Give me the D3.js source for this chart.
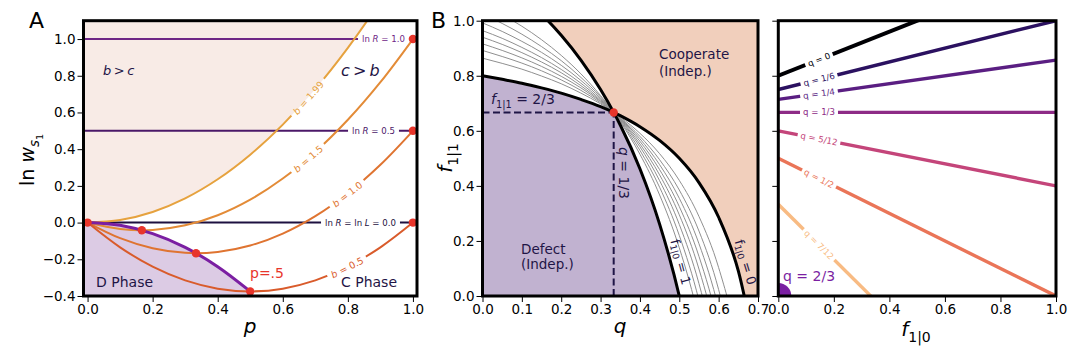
<!DOCTYPE html>
<html>
<head>
<meta charset="utf-8">
<script src="https://cdn.jsdelivr.net/npm/d3@7"></script>
<style>
  body { margin: 0; background: #fff; }
  svg text { font-family: "DejaVu Sans", sans-serif; }
</style>
</head>
<body>
<svg id="fig" width="1080" height="352"></svg>
<script>
/* global d3 */

// ---------- panel A : ln w vs p ----------
var pGrid     = [0, 0.1, 0.2, 0.3, 0.4, 0.5, 0.6, 0.7, 0.8, 0.9, 1.0];
var bNames    = ['1.99', '1.5', '1.0', '0.5'];
var lnW_b199  = [0, 0.014, 0.058, 0.132, 0.236, 0.370, 0.534, 0.728, 0.952, 1.206, 1.490];
var lnW_b150  = [0, -0.035, -0.040, -0.015, 0.040, 0.125, 0.240, 0.385, 0.560, 0.765, 1.000];
var lnW_b100  = [0, -0.085, -0.140, -0.165, -0.160, -0.125, -0.060, 0.035, 0.160, 0.315, 0.500];
var lnW_b050  = [0, -0.135, -0.240, -0.315, -0.360, -0.375, -0.360, -0.315, -0.240, -0.135, 0.000];
var phaseP    = [0, 0.1, 0.2, 0.3, 0.4, 0.5];
var phaseLnW  = [0, -0.015, -0.060, -0.135, -0.240, -0.375];
var minP      = [0, 1 / 6, 1 / 3, 0.5];
var minLnW    = [0, -0.042, -0.167, -0.375];
var lnRValues = [1.0, 0.5, 0.0];
var lnRNames  = ['1.0', '0.5', '0.0'];
var endP      = [1, 1, 1];
var endLnW    = [1.0, 0.5, 0.0];
var aTicksX   = [0, 0.2, 0.4, 0.6, 0.8, 1.0];
var aTicksY   = [-0.4, -0.2, 0, 0.2, 0.4, 0.6, 0.8, 1.0];

// ---------- panel B : f11 vs q ----------
var qGrid      = [0, 0.05, 0.1, 0.15, 0.2, 0.25, 0.3, 1 / 3, 0.35, 0.4, 0.45, 0.5, 0.55, 0.6, 0.65, 0.7];
var f11_f10is0 = [0.800, 0.787, 0.773, 0.756, 0.737, 0.714, 0.688, 0.667, 0.655, 0.615, 0.565, 0.500, 0.412, 0.286, 0.091, -0.250];
var f11_f10is1 = [1.200, 1.149, 1.091, 1.024, 0.947, 0.857, 0.750, 0.667, 0.621, 0.462, 0.261, 0.000, -0.353, -0.857, -1.636, -3.000];
var f11_gray = [
  [0.864, 0.845, 0.824, 0.799, 0.771, 0.737, 0.698, 0.667, 0.650, 0.591, 0.517, 0.420, 0.289, 0.103, -0.186, -0.690],
  [0.892, 0.870, 0.846, 0.818, 0.785, 0.747, 0.702, 0.667, 0.647, 0.580, 0.495, 0.385, 0.236, 0.023, -0.306, -0.883],
  [0.916, 0.892, 0.865, 0.834, 0.798, 0.756, 0.706, 0.667, 0.645, 0.571, 0.477, 0.355, 0.190, -0.046, -0.410, -1.048],
  [0.940, 0.914, 0.884, 0.850, 0.811, 0.764, 0.709, 0.667, 0.643, 0.562, 0.459, 0.325, 0.144, -0.114, -0.514, -1.213],
  [0.964, 0.936, 0.903, 0.866, 0.823, 0.773, 0.713, 0.667, 0.641, 0.552, 0.440, 0.295, 0.098, -0.183, -0.617, -1.378],
  [0.992, 0.961, 0.925, 0.885, 0.838, 0.783, 0.718, 0.667, 0.639, 0.542, 0.419, 0.260, 0.045, -0.263, -0.738, -1.570],
  [1.024, 0.990, 0.951, 0.906, 0.855, 0.794, 0.723, 0.667, 0.636, 0.529, 0.395, 0.220, -0.016, -0.354, -0.876, -1.790],
  [1.060, 1.022, 0.980, 0.931, 0.874, 0.807, 0.728, 0.667, 0.633, 0.515, 0.367, 0.175, -0.085, -0.457, -1.032, -2.038]
];
var critQ   = 1 / 3;
var critF11 = 2 / 3;
var bTicksX = [0, 0.1, 0.2, 0.3, 0.4, 0.5, 0.6, 0.7];
var bTicksY = [0, 0.2, 0.4, 0.6, 0.8, 1.0];

// ---------- panel C : f11 vs f10 for fixed q ----------
var qNames    = ['0', '1/6', '1/4', '1/3', '5/12', '1/2', '7/12'];
var f11AtZero = [0.800, 0.750, 0.714, 0.667, 0.600, 0.500, 0.333];
var f11AtOne  = [1.200, 1.000, 0.857, 0.667, 0.400, 0.000, -0.667];
var cTicksX   = [0, 0.2, 0.4, 0.6, 0.8, 1.0];

// ---------- styles ----------
var W = 1080, H = 352;
var ink = '#1f1546';
var red = '#e8352b';
var bColors   = ['#e6a23e', '#e38b37', '#df7431', '#d95b2b'];
var lnRColors = ['#6e2585', '#4b1868', '#1d1040'];
var qColors   = ['#000004', '#2b1160', '#5a1e82', '#8d2b86', '#c4457a', '#ea7558', '#f8bb83'];

var svg = d3.select('#fig');
var defs = svg.append('defs');
var fmt1 = d3.format('.1f');

function zip(xs, ys) { return xs.map(function (x, i) { return [x, ys[i]]; }); }

function richText(sel, parts, size) {
  var shift = 0;
  parts.forEach(function (pt) {
    var kind = pt[1] || '';
    var want = 0, fs = size;
    if (kind.indexOf('sub') >= 0) { want = size * 0.28; fs = size * 0.7; }
    if (kind.indexOf('subsub') >= 0) { want = size * 0.45; fs = size * 0.5; }
    var t = sel.append('tspan').text(pt[0]).attr('font-size', fs);
    if (kind.charAt(0) === 'i') t.attr('font-style', 'italic');
    if (want - shift !== 0) t.attr('dy', want - shift);
    shift = want;
  });
  return sel;
}

function cleanAxis(a) {
  a.select('.domain').remove();
  a.selectAll('line').attr('stroke', '#000').attr('stroke-width', 1);
  a.selectAll('text').attr('font-size', 13.5).attr('font-family', 'DejaVu Sans').attr('fill', '#000');
}

function axes(g, x, y, xt, yt, showY) {
  g.append('g').attr('transform', 'translate(0,' + y.range()[0] + ')')
    .call(d3.axisBottom(x).tickValues(xt).tickFormat(fmt1).tickSize(6).tickPadding(2))
    .call(cleanAxis);
  g.append('g').attr('transform', 'translate(' + x.range()[0] + ',0)')
    .call(d3.axisLeft(y).tickValues(yt).tickFormat(showY ? fmt1 : '').tickSize(6).tickPadding(2))
    .call(cleanAxis);
}

function frame(g, x, y) {
  g.append('rect')
    .attr('x', x.range()[0]).attr('y', y.range()[1])
    .attr('width', x.range()[1] - x.range()[0]).attr('height', y.range()[0] - y.range()[1])
    .attr('fill', 'none').attr('stroke', '#000').attr('stroke-width', 3);
}

function clipFor(id, x, y) {
  defs.append('clipPath').attr('id', id).append('rect')
    .attr('x', x.range()[0]).attr('y', y.range()[1])
    .attr('width', x.range()[1] - x.range()[0]).attr('height', y.range()[0] - y.range()[1]);
  return 'url(#' + id + ')';
}

// put a label on a path (inline, cutting a gap in the line with a mask)
function pathLabel(g, pathSel, id, targetX, parts, size, color, pad) {
  var node = pathSel.node(), total = node.getTotalLength();
  var lo = 0, hi = total;
  for (var k = 0; k < 40; k++) {
    var mid = (lo + hi) / 2;
    if (node.getPointAtLength(mid).x < targetX) lo = mid; else hi = mid;
  }
  var pt = node.getPointAtLength(lo);
  var a = node.getPointAtLength(Math.max(0, lo - 3));
  var b = node.getPointAtLength(Math.min(total, lo + 3));
  var ang = Math.atan2(b.y - a.y, b.x - a.x) * 180 / Math.PI;
  var tr = 'translate(' + pt.x + ',' + pt.y + ') rotate(' + ang + ')';
  var t = g.append('text').attr('transform', tr)
    .attr('text-anchor', 'middle').attr('dominant-baseline', 'central')
    .attr('fill', color).attr('font-size', size);
  richText(t, parts, size);
  var bw = t.node().getBBox().width;
  var m = defs.append('mask').attr('id', id).attr('maskUnits', 'userSpaceOnUse')
    .attr('x', 0).attr('y', 0).attr('width', W).attr('height', H);
  m.append('rect').attr('width', W).attr('height', H).attr('fill', '#fff');
  m.append('rect').attr('transform', tr)
    .attr('x', -bw / 2 - pad).attr('y', -size * 0.75)
    .attr('width', bw + 2 * pad).attr('height', size * 1.5).attr('fill', '#000');
  pathSel.attr('mask', 'url(#' + id + ')');
}

// =============== PANEL A ===============
(function panelA() {
  var x = d3.scaleLinear().domain([-0.0125, 1.0125]).range([83.5, 417]);
  var y = d3.scaleLinear().domain([-0.4, 1.1]).range([296, 20.7]);
  var g = svg.append('g');
  var plot = g.append('g').attr('clip-path', clipFor('clipA', x, y));

  // cooperative region (above b = 1.99 curve and above 0)
  var coopPts = [[x.domain()[0], 0]].concat(zip(pGrid, lnW_b199));
  plot.append('path')
    .attr('d', d3.area().x(function (d) { return x(d[0]); })
      .y0(function (d) { return y(Math.max(0, d[1])); }).y1(y(y.domain()[1]))
      .curve(d3.curveCatmullRom)(coopPts))
    .attr('fill', '#f8ebe6');

  // D phase region
  var defPts = [[x.domain()[0], 0]].concat(zip(phaseP, phaseLnW));
  plot.append('path')
    .attr('d', d3.area().x(function (d) { return x(d[0]); })
      .y0(function (d) { return y(d[1]); }).y1(y(y.domain()[0]))
      .curve(d3.curveCatmullRom)(defPts))
    .attr('fill', '#dccbe4');

  var line = d3.line().x(function (d) { return x(d[0]); }).y(function (d) { return y(d[1]); });

  // ln R horizontal lines
  var lnRLabelX = [383.5, 373.5, 360.5];
  lnRValues.forEach(function (v, i) {
    var p = plot.append('path')
      .attr('d', line([[x.domain()[0], v], [x.domain()[1], v]]))
      .attr('stroke', lnRColors[i]).attr('stroke-width', 2).attr('fill', 'none');
    var parts = i === 2
      ? [['ln '], ['R', 'i'], [' = ln '], ['L', 'i'], [' = ' + lnRNames[i]]]
      : [['ln '], ['R', 'i'], [' = ' + lnRNames[i]]];
    pathLabel(g, p, 'mR' + i, lnRLabelX[i], parts, 8.6, lnRColors[i], 4);
  });

  // b curves
  var bCurves = [lnW_b199, lnW_b150, lnW_b100, lnW_b050];
  var bLabelX = [308, 308, 347, 347];
  bCurves.forEach(function (vals, i) {
    var p = plot.append('path')
      .attr('d', line.curve(d3.curveCatmullRom)(zip(pGrid, vals)))
      .attr('stroke', bColors[i]).attr('stroke-width', 2).attr('fill', 'none');
    pathLabel(g, p, 'mB' + i, bLabelX[i], [['b', 'i'], [' = ' + bNames[i]]], 9.5, bColors[i], 4);
  });

  // phase boundary
  plot.append('path')
    .attr('d', line.curve(d3.curveCatmullRom)(zip(phaseP, phaseLnW)))
    .attr('stroke', '#7b1fa2').attr('stroke-width', 3).attr('fill', 'none');

  // red points
  g.selectAll('.dotA').data(zip(minP, minLnW).concat(zip(endP, endLnW))).enter()
    .append('circle').attr('class', 'dotA')
    .attr('cx', function (d) { return x(d[0]); }).attr('cy', function (d) { return y(d[1]); })
    .attr('r', 4.2).attr('fill', red);

  // annotations
  richText(g.append('text').attr('x', 103).attr('y', 75).attr('fill', ink).attr('font-size', 13),
    [['b', 'i'], ['\u2009>\u2009'], ['c', 'i']], 13);
  richText(g.append('text').attr('x', 341).attr('y', 76).attr('fill', ink).attr('font-size', 16),
    [['c', 'i'], ['\u2009>\u2009'], ['b', 'i']], 16);
  g.append('text').attr('x', 96).attr('y', 287).attr('fill', ink).attr('font-size', 14).text('D Phase');
  g.append('text').attr('x', 341).attr('y', 287).attr('fill', ink).attr('font-size', 14).text('C Phase');
  g.append('text').attr('x', 250).attr('y', 278).attr('fill', red).attr('font-size', 14).text('p=.5');

  axes(g, x, y, aTicksX, aTicksY, true);
  frame(g, x, y);

  richText(g.append('text').attr('transform', 'translate(' + 34 + ',' + 160 + ') rotate(-90)')
    .attr('text-anchor', 'middle').attr('fill', '#000').attr('font-size', 19),
    [['ln '], ['w', 'i'], ['s', 'isub'], ['1', 'subsub']], 19);
  g.append('text').attr('x', 250).attr('y', 333).attr('text-anchor', 'middle')
    .attr('font-size', 20).attr('font-style', 'italic').text('p');
  g.append('text').attr('x', 29).attr('y', 28).attr('font-size', 22).text('A');
})();

// =============== PANEL B ===============
(function panelB() {
  var x = d3.scaleLinear().domain([0, 0.7]).range([482.5, 758]);
  var y = d3.scaleLinear().domain([0, 1]).range([296, 20.7]);
  var g = svg.append('g');
  var plot = g.append('g').attr('clip-path', clipFor('clipB', x, y));

  var lo = f11_f10is0.map(function (v, i) { return Math.min(v, f11_f10is1[i]); });
  var hi = f11_f10is0.map(function (v, i) { return Math.max(v, f11_f10is1[i]); });

  plot.append('path')
    .attr('d', d3.area().x(function (d) { return x(d[0]); })
      .y0(y(0)).y1(function (d) { return y(d[1]); })
      .curve(d3.curveMonotoneX)(zip(qGrid, lo)))
    .attr('fill', '#c1b2d0');
  plot.append('path')
    .attr('d', d3.area().x(function (d) { return x(d[0]); })
      .y0(function (d) { return y(d[1]); }).y1(y(1))
      .curve(d3.curveMonotoneX)(zip(qGrid, hi)))
    .attr('fill', '#f1cfbc');

  var line = d3.line().x(function (d) { return x(d[0]); }).y(function (d) { return y(d[1]); })
    .curve(d3.curveMonotoneX);

  f11_gray.forEach(function (vals) {
    plot.append('path').attr('d', line(zip(qGrid, vals)))
      .attr('stroke', '#8f8f8f').attr('stroke-width', 1).attr('fill', 'none');
  });
  [f11_f10is0, f11_f10is1].forEach(function (vals) {
    plot.append('path').attr('d', line(zip(qGrid, vals)))
      .attr('stroke', '#000').attr('stroke-width', 3).attr('fill', 'none');
  });

  // dashed guides to the critical point
  plot.append('line').attr('x1', x(0)).attr('x2', x(critQ)).attr('y1', y(critF11)).attr('y2', y(critF11))
    .attr('stroke', ink).attr('stroke-width', 2).attr('stroke-dasharray', '7,3.5');
  plot.append('line').attr('x1', x(critQ)).attr('x2', x(critQ)).attr('y1', y(0)).attr('y2', y(critF11))
    .attr('stroke', ink).attr('stroke-width', 2).attr('stroke-dasharray', '7,3.5');

  g.append('circle').attr('cx', x(critQ)).attr('cy', y(critF11)).attr('r', 4.2).attr('fill', red);

  // annotations
  richText(g.append('text').attr('x', 491).attr('y', 104).attr('fill', ink).attr('font-size', 14),
    [['f', 'i'], ['1|1', 'sub'], [' = 2/3']], 14);
  richText(g.append('text').attr('transform', 'translate(623.5,173) rotate(90)')
    .attr('text-anchor', 'middle').attr('dominant-baseline', 'central').attr('fill', ink).attr('font-size', 14),
    [['q', 'i'], [' = 1/3']], 14);
  richText(g.append('text').attr('transform', 'translate(681,262) rotate(75)')
    .attr('text-anchor', 'middle').attr('dominant-baseline', 'central').attr('fill', ink).attr('font-size', 13),
    [['f'], ['1|0', 'sub'], [' = 1']], 13);
  richText(g.append('text').attr('transform', 'translate(746,262) rotate(73)')
    .attr('text-anchor', 'middle').attr('dominant-baseline', 'central').attr('fill', ink).attr('font-size', 13),
    [['f'], ['1|0', 'sub'], [' = 0']], 13);
  g.append('text').attr('x', 659).attr('y', 59).attr('fill', ink).attr('font-size', 13.5).text('Cooperate');
  g.append('text').attr('x', 659).attr('y', 75.5).attr('fill', ink).attr('font-size', 13.5).text('(Indep.)');
  g.append('text').attr('x', 521).attr('y', 254).attr('fill', ink).attr('font-size', 13.5).text('Defect');
  g.append('text').attr('x', 521).attr('y', 268.5).attr('fill', ink).attr('font-size', 13.5).text('(Indep.)');

  axes(g, x, y, bTicksX, bTicksY, true);
  frame(g, x, y);

  richText(g.append('text').attr('transform', 'translate(452,158) rotate(-90)')
    .attr('text-anchor', 'middle').attr('fill', '#000').attr('font-size', 20),
    [['f', 'i'], ['1|1', 'sub']], 20);
  g.append('text').attr('x', 620).attr('y', 333).attr('text-anchor', 'middle')
    .attr('font-size', 20).attr('font-style', 'italic').text('q');
  g.append('text').attr('x', 431).attr('y', 28).attr('font-size', 22).text('B');
})();

// =============== PANEL C ===============
(function panelC() {
  var x = d3.scaleLinear().domain([0, 1]).range([778.3, 1056]);
  var y = d3.scaleLinear().domain([0, 1]).range([296, 20.7]);
  var g = svg.append('g');
  var plot = g.append('g').attr('clip-path', clipFor('clipC', x, y));
  var line = d3.line().x(function (d) { return x(d[0]); }).y(function (d) { return y(d[1]); });

  qNames.forEach(function (name, i) {
    var p = plot.append('path')
      .attr('d', line([[0, f11AtZero[i]], [1, f11AtOne[i]]]))
      .attr('stroke', qColors[i]).attr('stroke-width', i === 0 ? 4 : 3.4).attr('fill', 'none');
    pathLabel(g, p, 'mQ' + i, 819, [['q = ' + name]], 8.6, qColors[i], 3);
  });

  // q = 2/3 collapses to the origin
  plot.append('circle').attr('cx', x(0)).attr('cy', y(0)).attr('r', 13).attr('fill', '#7b1fa2');
  g.append('text').attr('x', 783).attr('y', 281).attr('fill', '#7b1fa2').attr('font-size', 14).text('q = 2/3');

  axes(g, x, y, cTicksX, bTicksY, false);
  frame(g, x, y);

  richText(g.append('text').attr('x', 916).attr('y', 336).attr('text-anchor', 'middle')
    .attr('fill', '#000').attr('font-size', 20),
    [['f', 'i'], ['1|0', 'sub']], 20);
})();
</script>
</body>
</html>
